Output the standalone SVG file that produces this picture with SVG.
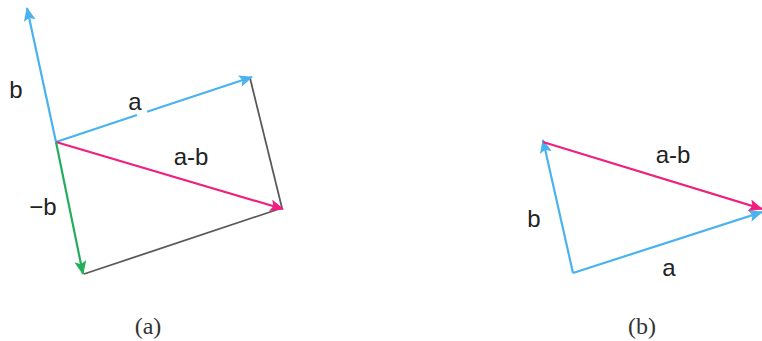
<svg xmlns="http://www.w3.org/2000/svg" width="762" height="341" viewBox="0 0 762 341">
<style>
.lbl{font-family:"Liberation Sans",Arial,sans-serif;font-size:24px;fill:#222;text-anchor:middle}
.cap{font-family:"Liberation Serif","Times New Roman",serif;font-size:24px;fill:#333;text-anchor:middle}
.blue{stroke:#4ab2ef;stroke-width:2.2;fill:none}
.pink{stroke:#ef1f7e;stroke-width:2.2;fill:none}
.green{stroke:#24ad5c;stroke-width:2.2;fill:none}
.gray{stroke:#5a5a5a;stroke-width:1.8;fill:none}
</style>
<defs>
<marker id="ab" markerUnits="userSpaceOnUse" markerWidth="14" markerHeight="12" refX="13" refY="6" orient="auto"><path d="M0,0 L14,6 L0,12 L3,6 Z" fill="#4ab2ef"/></marker>
<marker id="ap" markerUnits="userSpaceOnUse" markerWidth="14" markerHeight="12" refX="13" refY="6" orient="auto"><path d="M0,0 L14,6 L0,12 L3,6 Z" fill="#ef1f7e"/></marker>
<marker id="ag" markerUnits="userSpaceOnUse" markerWidth="14" markerHeight="12" refX="13" refY="6" orient="auto"><path d="M0,0 L14,6 L0,12 L3,6 Z" fill="#24ad5c"/></marker>
</defs>
<g id="connectors">
<line class="gray" x1="250" y1="78" x2="282" y2="208"/>
<line class="gray" x1="282" y1="208" x2="84" y2="274"/>
<line class="blue" x1="56" y1="142" x2="27" y2="8" marker-end="url(#ab)"/>
<line class="blue" x1="56" y1="142" x2="137" y2="115"/>
<line class="blue" x1="147" y1="111.7" x2="252" y2="77" marker-end="url(#ab)"/>
<line class="pink" x1="56" y1="142" x2="283" y2="209" marker-end="url(#ap)"/>
<line class="green" x1="56" y1="142" x2="83" y2="274" marker-end="url(#ag)"/>
<line class="blue" x1="573" y1="273" x2="543" y2="140" marker-end="url(#ab)"/>
<line class="blue" x1="573" y1="273" x2="762" y2="212" marker-end="url(#ab)"/>
<line class="pink" x1="543" y1="142" x2="762" y2="209" marker-end="url(#ap)"/>
</g>
<g id="labels-a">
<text class="lbl" x="16" y="98">b</text>
<text class="lbl" x="135" y="110">a</text>
<text class="lbl" x="191" y="165">a-b</text>
<text class="lbl" x="43" y="215">−b</text>
<text class="cap" x="148" y="334">(a)</text>
</g>
<g id="labels-b">
<text class="lbl" x="534" y="227">b</text>
<text class="lbl" x="673" y="163">a-b</text>
<text class="lbl" x="669" y="276">a</text>
<text class="cap" x="642" y="334">(b)</text>
</g>
</svg>
